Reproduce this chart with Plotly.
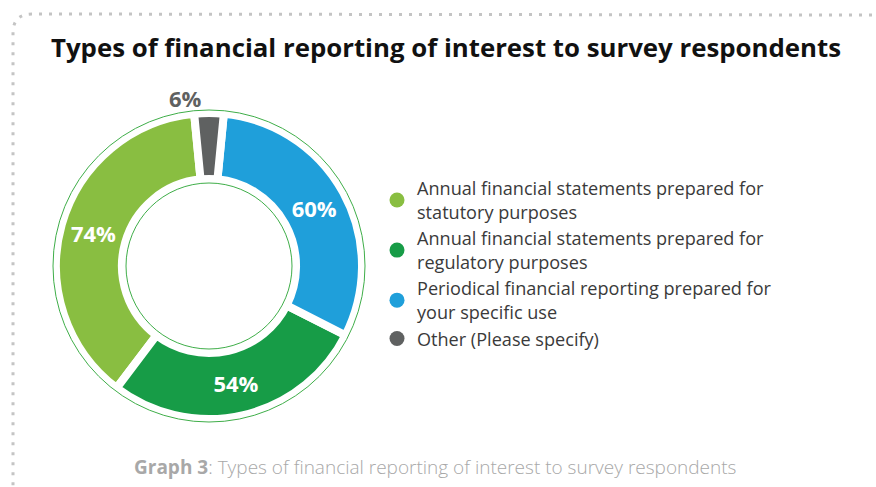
import plotly.graph_objects as go

# Survey shares (multiple answers allowed, so they do not sum to 100)
categories = [
    "Annual financial statements prepared for<br>statutory purposes",
    "Annual financial statements prepared for<br>regulatory purposes",
    "Periodical financial reporting prepared for<br>your specific use",
    "Other (Please specify)",
]
shares = [74, 54, 60, 6]
colors = ["#89BE41", "#179C47", "#1F9FDA", "#5F6161"]

W, H = 876, 487
ring_green = "#3FAE49"

# Donut geometry in pixels
cx, cy = 209, 266
R = 153


def domain(r):
    return dict(
        x=[(cx - r) / W, (cx + r) / W],
        y=[(H - cy - r) / H, (H - cy + r) / H],
    )


def ring(r):
    # a single transparent slice whose outline draws a thin green circle
    return go.Pie(
        values=[1], labels=[f"ring{r}"], domain=domain(r), sort=False,
        marker=dict(colors=["rgba(0,0,0,0)"], line=dict(color=ring_green, width=1)),
        textinfo="none", hoverinfo="skip", showlegend=False,
    )


fig = go.Figure()

# Main donut: first slice sits clockwise of the rotation point, the rest
# follow counterclockwise, so the small last slice ends up centred at the top.
# The thin "Other" slice is too narrow for its label, so it goes outside.
total = sum(shares)
angles = [v / total * 360 for v in shares]
fig.add_trace(go.Pie(
    values=shares,
    labels=categories,
    text=[f"{v}%" for v in shares],
    textinfo="text",
    textposition=["inside", "inside", "inside", "outside"],
    insidetextorientation="horizontal",
    insidetextfont=dict(family="Open Sans", size=22, color="white", weight="bold"),
    outsidetextfont=dict(family="Open Sans", size=22, color=colors[-1], weight="bold"),
    hole=0.569,
    sort=False,
    direction="counterclockwise",
    rotation=-(angles[0] + angles[-1] / 2),
    domain=domain(R),
    automargin=False,
    marker=dict(colors=colors, line=dict(color="white", width=8)),
    showlegend=False,
    hoverinfo="label+text",
))

# Thin green circles around the donut and inside its hole
fig.add_trace(ring(156))
fig.add_trace(ring(83))

# Legend entries with round markers
for name, col in zip(categories, colors):
    fig.add_trace(go.Scatter(
        x=[None], y=[None], mode="markers", name=name,
        marker=dict(symbol="circle", size=15, color=col),
        hoverinfo="skip",
    ))

fig.update_xaxes(visible=False)
fig.update_yaxes(visible=False)


def px(x):
    return x / W


def py(y):
    return 1 - y / H


# Dotted frame along the top and left edges
frame = (
    f"M {px(872)},{py(15)} L {px(32)},{py(14)} "
    f"Q {px(13)},{py(14)} {px(13)},{py(33)} L {px(13)},{py(490)}"
)
fig.add_shape(
    type="path", path=frame, xref="paper", yref="paper",
    line=dict(color="#C4C4C4", width=3, dash="3px,7px"),
)

fig.update_layout(
    width=W, height=H,
    margin=dict(l=0, r=0, t=0, b=0),
    paper_bgcolor="white",
    plot_bgcolor="white",
    font=dict(family="Open Sans", color="#3A3A3A"),
    title=dict(
        text="Types of financial reporting of interest to survey respondents",
        font=dict(family="Open Sans", size=25.8, color="#111111", weight="bold"),
        x=446 / W, xanchor="center",
        y=py(48), yanchor="middle",
    ),
    legend=dict(
        x=px(377), xanchor="left",
        y=py(170), yanchor="top",
        font=dict(family="Open Sans", size=18.1, color="#3A3A3A"),
        itemclick=False, itemdoubleclick=False,
        bgcolor="rgba(0,0,0,0)",
    ),
    annotations=[dict(
        text="<b>Graph 3</b>: Types of financial reporting of interest to survey respondents",
        xref="paper", yref="paper",
        x=435 / W, xanchor="center",
        y=py(467), yanchor="middle",
        showarrow=False,
        font=dict(family="Open Sans", size=19, color="#A8A8A8", weight=300),
    )],
)

fig.write_html("out.html")
